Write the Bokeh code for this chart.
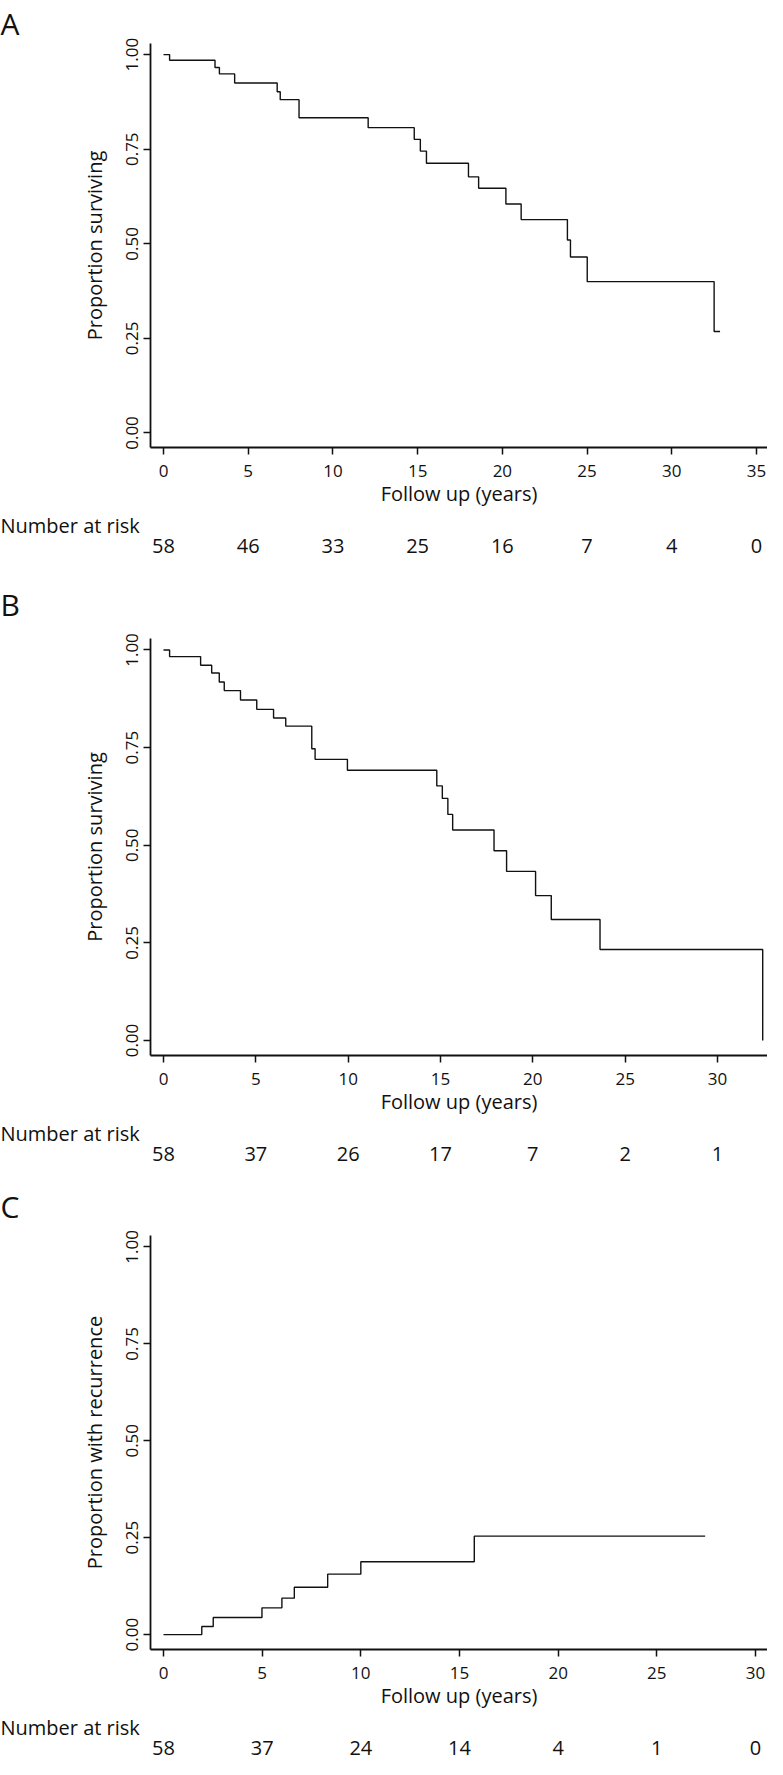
from bokeh.plotting import figure
from bokeh.models import ColumnDataSource, FixedTicker, Range1d, Title, LinearAxis
from bokeh.layouts import column
from bokeh.embed import file_html
from bokeh.resources import INLINE

# ---------------- data ----------------
# Panel A: overall survival (Kaplan-Meier)
a_time = [0, 0.36, 3.04, 3.30, 4.20, 6.71, 6.89, 8.00, 12.08, 14.80, 15.16, 15.52,
          18.00, 18.60, 20.21, 21.11, 23.84, 24.02, 25.01, 32.50, 32.85]
a_surv = [1.0, 0.985, 0.966, 0.949, 0.925, 0.902, 0.881, 0.833, 0.807, 0.776, 0.745,
          0.713, 0.677, 0.647, 0.605, 0.564, 0.510, 0.465, 0.400, 0.268, 0.268]
a_risk_time = [0, 5, 10, 15, 20, 25, 30, 35]
a_risk_n = [58, 46, 33, 25, 16, 7, 4, 0]

# Panel B: survival (second end point)
b_time = [0, 0.33, 2.01, 2.61, 3.02, 3.29, 4.17, 5.05, 5.96, 6.62, 8.03, 8.21, 9.96,
          14.80, 15.10, 15.40, 15.66, 17.90, 18.58, 20.15, 21.00, 23.64, 32.45]
b_surv = [1.0, 0.983, 0.961, 0.941, 0.918, 0.896, 0.872, 0.848, 0.826, 0.805, 0.747,
          0.720, 0.692, 0.652, 0.620, 0.579, 0.539, 0.486, 0.433, 0.371, 0.310, 0.233, 0.0]
b_risk_time = [0, 5, 10, 15, 20, 25, 30]
b_risk_n = [58, 37, 26, 17, 7, 2, 1]

# Panel C: cumulative recurrence
c_time = [0, 1.94, 2.52, 4.99, 6.00, 6.63, 8.32, 10.00, 15.75, 27.45]
c_prop = [0.0, 0.021, 0.044, 0.069, 0.094, 0.122, 0.156, 0.188, 0.254, 0.254]
c_risk_time = [0, 5, 10, 15, 20, 25, 30]
c_risk_n = [58, 37, 24, 14, 4, 1, 0]

y_ticks = [0.0, 0.25, 0.5, 0.75, 1.0]
y_tick_labels = ["0.00", "0.25", "0.50", "0.75", "1.00"]
x_title = "Follow up (years)"
risk_title = "Number at risk"

# ---------------- style ----------------
FONT = "Open Sans"
INK = "#111111"
W = 767
FRAME_LEFT = 150


def make_panel(letter, t, yv, ylabel, risk_t, risk_n, x_start, x_end,
               height, top, bottom, letter_standoff):
    p = figure(width=W, height=height, output_backend="svg", toolbar_location=None,
               x_range=Range1d(x_start, x_end), y_range=Range1d(-0.0384, 1.0294),
               min_border_left=FRAME_LEFT, min_border_right=0,
               min_border_top=top, min_border_bottom=bottom)
    p.outline_line_color = None
    p.grid.visible = False
    p.background_fill_color = "white"
    p.border_fill_color = "white"

    # panel letter as a left-aligned title pushed to the page edge
    p.title = Title(text=letter, align="left", offset=-FRAME_LEFT, standoff=letter_standoff,
                    text_font=FONT, text_font_size="30px", text_font_style="normal",
                    text_color=INK)

    src = ColumnDataSource(dict(t=t, y=yv))
    p.step(x="t", y="y", source=src, mode="after", line_color=INK, line_width=1.4)

    xa = p.xaxis[0]
    ya = p.yaxis[0]
    xa.ticker = FixedTicker(ticks=risk_t)
    ya.ticker = FixedTicker(ticks=y_ticks)
    ya.major_label_overrides = {v: s for v, s in zip(y_ticks, y_tick_labels)}
    ya.major_label_orientation = "vertical"
    xa.axis_label = x_title
    ya.axis_label = ylabel
    for ax in (xa, ya):
        ax.axis_line_color = INK
        ax.axis_line_width = 1.8
        ax.major_tick_line_color = INK
        ax.major_tick_line_width = 1.5
        ax.major_tick_in = 0
        ax.major_tick_out = 7
        ax.minor_tick_in = 0
        ax.minor_tick_out = 0
        ax.major_label_text_font = FONT
        ax.major_label_text_font_size = "17px"
        ax.major_label_text_color = INK
        ax.axis_label_text_font = FONT
        ax.axis_label_text_font_size = "20px"
        ax.axis_label_text_font_style = "normal"
        ax.axis_label_text_color = INK
    xa.major_label_standoff = 10
    xa.axis_label_standoff = 0
    ya.major_label_standoff = 5
    ya.axis_label_standoff = 16

    # "Number at risk" heading, left-aligned at the page edge
    nar = Title(text=risk_title, align="left", offset=-FRAME_LEFT, standoff=0,
                text_font=FONT, text_font_size="20px", text_font_style="normal",
                text_color=INK)
    p.add_layout(nar, "below")

    # numbers at risk as the labels of an extra, line-less axis
    risk_axis = LinearAxis(ticker=FixedTicker(ticks=risk_t),
                           major_label_overrides={rt: str(rn) for rt, rn in zip(risk_t, risk_n)})
    risk_axis.axis_line_color = None
    risk_axis.major_tick_line_color = None
    risk_axis.minor_tick_line_color = None
    risk_axis.major_tick_in = 0
    risk_axis.major_tick_out = 0
    risk_axis.minor_tick_in = 0
    risk_axis.minor_tick_out = 0
    risk_axis.major_label_standoff = 0
    risk_axis.major_label_text_font = FONT
    risk_axis.major_label_text_font_size = "20px"
    risk_axis.major_label_text_color = INK
    p.add_layout(risk_axis, "below")
    return p


pa = make_panel("A", a_time, a_surv, "Proportion surviving", a_risk_time, a_risk_n,
                -0.767, 35.65, 562, 30, 115, 0)
pb = make_panel("B", b_time, b_surv, "Proportion surviving", b_risk_time, b_risk_n,
                -0.704, 32.71, 606, 76, 113, 28)
pc = make_panel("C", c_time, c_prop, "Proportion with recurrence", c_risk_time,
                c_risk_n, -0.659, 30.61, 591, 67, 110, 18)

layout = column(pa, pb, pc, spacing=0)

with open("out.html", "w") as f:
    f.write(file_html(layout, INLINE))
